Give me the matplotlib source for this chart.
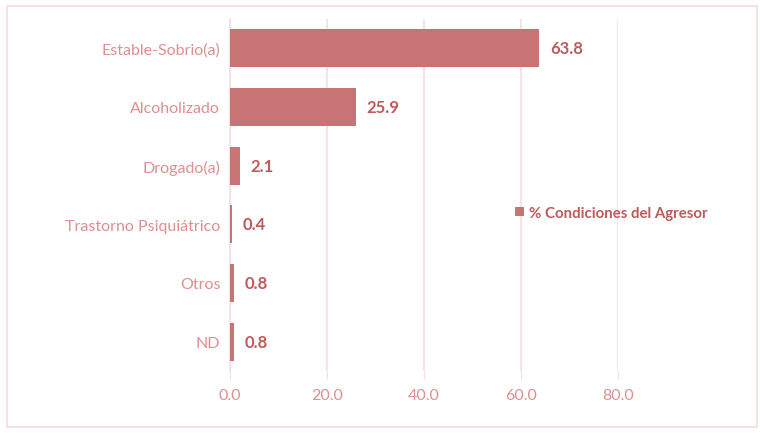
import matplotlib.pyplot as plt
from matplotlib.patches import Rectangle

categories = ['Estable-Sobrio(a)', 'Alcoholizado', 'Drogado(a)',
              'Trastorno Psiquiátrico', 'Otros', 'ND']
values = [63.8, 25.9, 2.1, 0.4, 0.8, 0.8]
ticks = [0, 20, 40, 60, 80]
series_name = '% Condiciones del Agresor'

bar_color = '#c87474'
label_color = '#bf5a5a'
tick_color = '#de8f8f'
grid_color = '#f6dede'

plt.rcParams['font.family'] = ['Lato', 'DejaVu Sans']

fig = plt.figure(figsize=(7.6, 4.35), dpi=100)
fig.patches.append(Rectangle((7 / 760, 7 / 435), 750 / 760, 421 / 435,
                             transform=fig.transFigure, fill=False,
                             edgecolor='#f6dada', linewidth=1.2))
ax = fig.add_axes([230 / 760, 63 / 435, 388 / 760, 352 / 435])

y = list(range(len(categories)))
bars = ax.barh(y, values, height=0.65, color=bar_color, label=series_name, zorder=3)
ax.set_ylim(len(categories) - 0.5, -0.5)
ax.set_xlim(0, 80)
ax.set_xticks(ticks)
ax.set_xticklabels([f'{t:.1f}' for t in ticks], fontsize=11.5, color=tick_color)
ax.set_yticks(y)
ax.set_yticklabels(categories, fontsize=11.5, color=tick_color)
ax.tick_params(axis='y', length=0, pad=7)
ax.tick_params(axis='x', length=6, color=grid_color, pad=6)
ax.grid(axis='x', color=grid_color, linewidth=1.2, zorder=0)
for s in ['top', 'right', 'bottom']:
    ax.spines[s].set_visible(False)
ax.spines['left'].set_color(grid_color)
ax.spines['left'].set_linewidth(1.2)

for b, v in zip(bars, values):
    ax.text(b.get_width() + 2.2, b.get_y() + b.get_height() / 2, f'{v:.1f}',
            va='center', ha='left', fontsize=12, fontweight='bold', color=label_color)

leg = ax.legend(loc='center left', bbox_to_anchor=(0.7, 0.45), frameon=False,
                handlelength=0.6, handleheight=0.6, handletextpad=0.3,
                prop={'size': 10.8, 'weight': 'bold'})
for t in leg.get_texts():
    t.set_color(label_color)

fig.savefig('out.png', dpi=100)
